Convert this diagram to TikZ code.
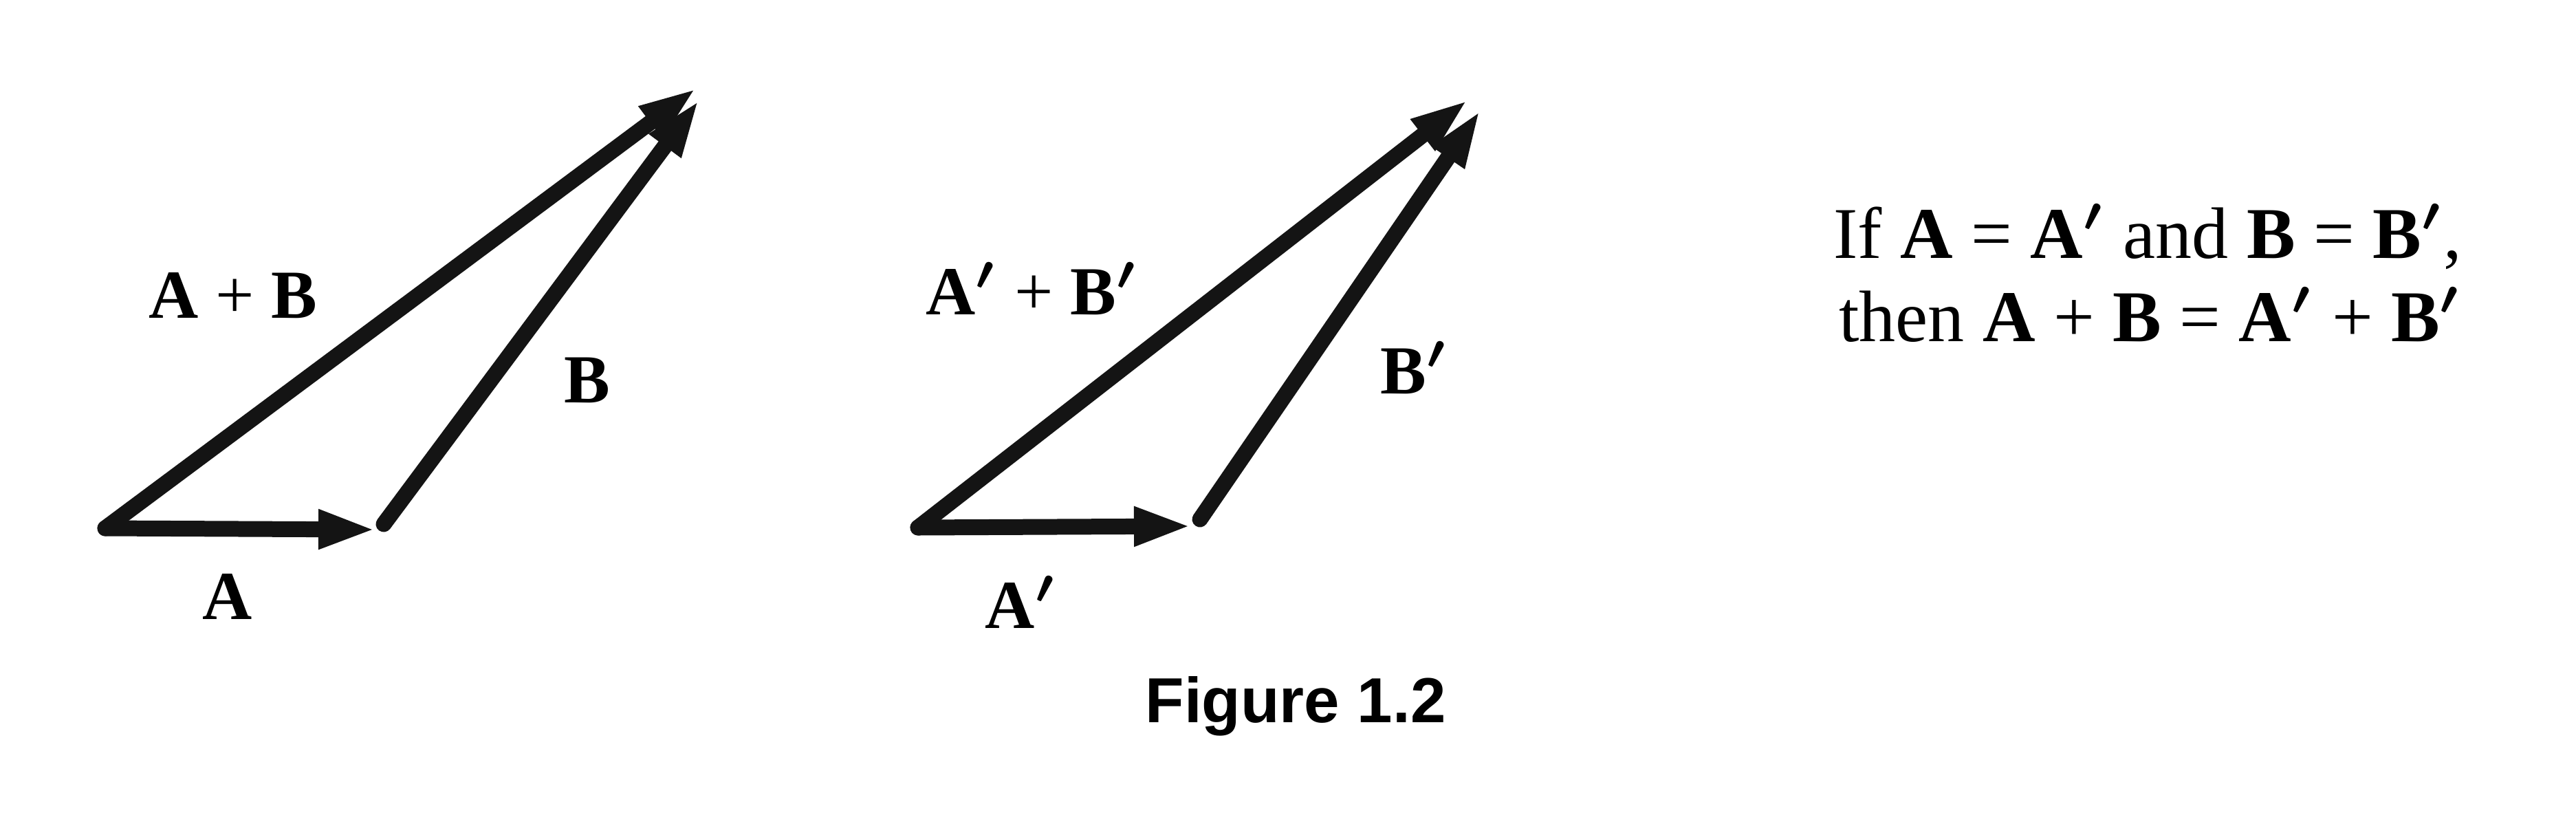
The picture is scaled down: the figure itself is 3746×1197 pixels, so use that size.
\documentclass[tikz,border=0pt]{standalone}
\usepackage{fontspec}
\usepackage{bm}
\setmainfont{Liberation Serif}
\newfontfamily\capfont{Liberation Sans}
\usetikzlibrary{arrows.meta}
\newcommand{\vA}{\textbf{A}}
\newcommand{\vB}{\textbf{B}}
\newcommand{\pr}{\ensuremath{{}^{\bm{\prime}}}}
\tikzset{
  vec/.style={line width=2.3pt, line cap=round, line join=round, black!92,
    -{Triangle[length=8.4pt,width=5.2pt]}},
  lbl/.style={inner sep=0pt, anchor=base, font=\fontsize{10}{12}\selectfont},
  txt/.style={inner sep=0pt, anchor=base west, font=\fontsize{10.6}{12}\selectfont},
  figcaption/.style={inner sep=0pt, anchor=base, font=\capfont\bfseries\fontsize{9.25}{11}\selectfont}
}
\begin{document}
\begin{tikzpicture}[x=0.1pt,y=-0.1pt]
\useasboundingbox[fill=white] (0,0) rectangle (3746,1197);
% left triangle
\coordinate (O1) at (153,768);
\coordinate (A1) at (547,770);
\coordinate (B1s) at (558,762);
\coordinate (B1) at (1017,145);
\coordinate (S1) at (1013,128);
\draw[vec] (O1) -- (A1);
\draw[vec] (B1s) -- (B1);
\draw[vec] (O1) -- (S1);
\node[lbl] (lAB) at (339,462) {\vA{} + \vB};
\node[lbl] (lB) at (854,585) {\vB};
\node[lbl] (lA) at (331,900) {\vA};
% right triangle
\coordinate (O2) at (1335,767);
\coordinate (A2) at (1733,765);
\coordinate (B2s) at (1745,755);
\coordinate (B2) at (2153,160);
\coordinate (S2) at (2135,145);
\draw[vec] (O2) -- (A2);
\draw[vec] (B2s) -- (B2);
\draw[vec] (O2) -- (S2);
\node[lbl] (rAB) at (1501,457) {\vA\pr{} + \vB\pr};
\node[lbl] (rB) at (2057,572) {\vB\pr};
\node[lbl] (rA) at (1485,913) {\vA\pr};
% caption
\node[figcaption] (fig) at (1884,1050) {Figure 1.2};
% statement
\node[txt] (t1) at (2664,375) {If \vA{} = \vA\pr{} and \vB{} = \vB\pr,};
\node[txt] (t2) at (2672,496) {then \vA{} + \vB{} = \vA\pr{} + \vB\pr};
\end{tikzpicture}
\end{document}
